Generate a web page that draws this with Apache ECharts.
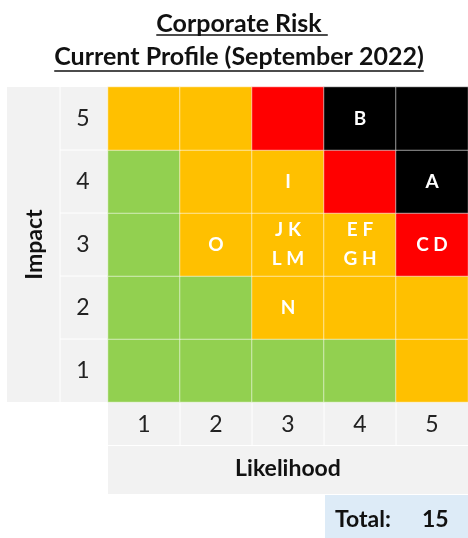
<!DOCTYPE html>
<html><head><meta charset="utf-8">
<script src="https://cdn.jsdelivr.net/npm/echarts@6/dist/echarts.min.js"></script>
<style>html,body{margin:0;padding:0;background:#fff}#c{width:468px;height:538px}</style>
</head><body><div id="c"></div>
<script>
// ---- data ----
const likelihoodLabels = ['1', '2', '3', '4', '5'];
const impactLabels = ['1', '2', '3', '4', '5'];
// risk level per cell (1 green, 2 amber, 3 red, 4 black), columns = likelihood 1..5
const levelImpact1 = [1, 1, 1, 1, 2];
const levelImpact2 = [1, 1, 2, 2, 2];
const levelImpact3 = [1, 2, 2, 2, 3];
const levelImpact4 = [1, 2, 2, 3, 4];
const levelImpact5 = [2, 2, 3, 4, 4];
// risks placed in each cell
const risksImpact1 = ['', '', '', '', ''];
const risksImpact2 = ['', '', 'N', '', ''];
const risksImpact3 = ['', 'O', 'J K\nL M', 'E F\nG H', 'C D'];
const risksImpact4 = ['', '', 'I', '', 'A'];
const risksImpact5 = ['', '', '', 'B', ''];
const totalRisks = 15;
const titleLine1 = 'Corporate Risk';
const titleLine2 = 'Current Profile (September 2022)';

const levels = [levelImpact1, levelImpact2, levelImpact3, levelImpact4, levelImpact5];
const risks = [risksImpact1, risksImpact2, risksImpact3, risksImpact4, risksImpact5];
const cells = [];
for (let i = 0; i < 5; i++) for (let j = 0; j < 5; j++) cells.push([j, i, levels[i][j], risks[i][j]]);

// ---- layout ----
const FONT = 'Lato';
const G = { left: 108, top: 87, right: 468, bottom: 402 };
const cw = (G.right - G.left) / 5, ch = (G.bottom - G.top) / 5;
const grey = '#F2F2F2';

function measure(t, font) {
  const c = document.createElement('canvas').getContext('2d');
  c.font = font; return c.measureText(t).width;
}
const tFont = 'bold 25px ' + FONT;
const cx = 239;
const w1 = measure(titleLine1, tFont), w1s = measure(titleLine1 + ' ', tFont);
const w2 = measure(titleLine2, tFont);

const graphics = [
  { type: 'rect', shape: { x: 7, y: G.top, width: G.left - 7, height: G.bottom - G.top }, style: { fill: grey } },
  { type: 'line', shape: { x1: 60, y1: G.top, x2: 60, y2: G.bottom }, style: { stroke: '#fff', lineWidth: 1 } },
  { type: 'rect', shape: { x: G.left, y: G.bottom, width: G.right - G.left, height: 43 }, style: { fill: grey } },
  { type: 'rect', shape: { x: G.left, y: G.bottom + 44, width: G.right - G.left, height: 48 }, style: { fill: grey } },
  { type: 'rect', shape: { x: 325, y: 495, width: 143, height: 43 }, style: { fill: '#DDEBF7' } },
  { type: 'text', style: { text: 'Total:', x: 335, y: 520, verticalAlign: 'middle', font: 'bold 23px ' + FONT, fill: '#111' } },
  { type: 'text', style: { text: String(totalRisks), x: 422, y: 520, verticalAlign: 'middle', font: 'bold 23px ' + FONT, fill: '#111' } },
  { type: 'text', style: { text: titleLine1, x: cx, y: 24, align: 'center', verticalAlign: 'middle', font: tFont, fill: '#111' } },
  { type: 'text', style: { text: titleLine2, x: cx, y: 57, align: 'center', verticalAlign: 'middle', font: tFont, fill: '#111' } },
  { type: 'line', shape: { x1: cx - w1 / 2, y1: 35, x2: cx - w1 / 2 + w1s, y2: 35 }, style: { stroke: '#111', lineWidth: 1.6 } },
  { type: 'line', shape: { x1: cx - w2 / 2, y1: 71, x2: cx + w2 / 2, y2: 71 }, style: { stroke: '#111', lineWidth: 1.6 } }
];
for (let k = 1; k < 5; k++) {
  graphics.push({ type: 'line', shape: { x1: 60, y1: G.top + k * ch, x2: G.left, y2: G.top + k * ch }, style: { stroke: '#fff', lineWidth: 1 } });
  graphics.push({ type: 'line', shape: { x1: G.left + k * cw, y1: G.bottom, x2: G.left + k * cw, y2: G.bottom + 43 }, style: { stroke: '#fff', lineWidth: 1 } });
}

const chart = echarts.init(document.getElementById('c'), null, { renderer: 'canvas' });
chart.setOption({
  animation: false,
  backgroundColor: '#fff',
  textStyle: { fontFamily: FONT },
  grid: { left: G.left, top: G.top, right: 468 - G.right, bottom: 538 - G.bottom, containLabel: false },
  xAxis: {
    type: 'category', data: likelihoodLabels, position: 'bottom',
    axisLine: { show: false }, axisTick: { show: false }, splitLine: { show: false },
    axisLabel: { margin: 11, fontSize: 23, color: '#222', fontFamily: FONT },
    name: 'Likelihood', nameLocation: 'middle', nameGap: 67,
    nameTextStyle: { fontSize: 23, fontWeight: 'bold', color: '#111', fontFamily: FONT, verticalAlign: 'middle' }
  },
  yAxis: {
    type: 'category', data: impactLabels,
    axisLine: { show: false }, axisTick: { show: false }, splitLine: { show: false },
    axisLabel: { margin: 25, align: 'center', fontSize: 23, color: '#222', fontFamily: FONT },
    name: 'Impact', nameLocation: 'middle', nameGap: 73, nameRotate: 90,
    nameTextStyle: { fontSize: 23, fontWeight: 'bold', color: '#111', fontFamily: FONT, verticalAlign: 'middle' }
  },
  visualMap: {
    type: 'piecewise', show: false, dimension: 2,
    pieces: [
      { value: 1, color: '#92D050' },
      { value: 2, color: '#FFC000' },
      { value: 3, color: '#FF0000' },
      { value: 4, color: '#000000' }
    ]
  },
  series: [{
    type: 'heatmap', data: cells,
    encode: { x: 0, y: 1, value: 2 },
    itemStyle: { borderColor: 'rgba(255,255,255,0.55)', borderWidth: 1 },
    label: {
      show: true, formatter: p => p.value[3], color: '#fff', fontSize: 19, fontWeight: 'bold',
      fontFamily: FONT, lineHeight: 29
    },
    emphasis: { disabled: true }
  }],
  graphic: graphics
});
</script></body></html>
